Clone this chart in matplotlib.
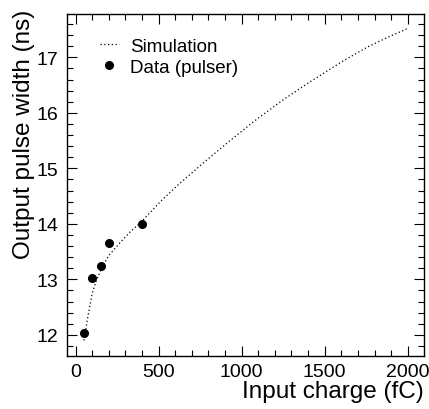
import matplotlib
matplotlib.use("Agg")
import matplotlib.pyplot as plt
from matplotlib.ticker import MultipleLocator

plt.rcParams['font.family'] = ['Liberation Sans', 'DejaVu Sans']

# Simulation curve
sim_charge = [50, 75, 100, 125, 150, 175, 200, 270, 330, 400, 460, 520, 620,
              770, 920, 1080, 1250, 1410, 1600, 1760, 1880, 2000]
sim_width = [11.9, 12.35, 12.75, 12.98, 13.15, 13.3, 13.43, 13.67, 13.86,
             14.05, 14.24, 14.43, 14.71, 15.1, 15.475, 15.86, 16.235, 16.555,
             16.915, 17.19, 17.36, 17.52]

# Pulser data
data_charge = [50, 100, 150, 200, 400]
data_width = [12.04, 13.03, 13.25, 13.65, 14.0]

fig = plt.figure(figsize=(4.29, 4.10), dpi=100)
ax = fig.add_axes([67/429, 1-357/410, (424-67)/429, (357-15)/410])

ax.plot(sim_charge, sim_width, color='black', lw=0.9, linestyle=(0, (1, 2)),
        label='Simulation')
ax.plot(data_charge, data_width, 'o', color='black', markersize=5.5,
        label='Data (pulser)')

ax.set_xlim(-52, 2098)
ax.set_ylim(11.62, 17.78)

ax.xaxis.set_major_locator(MultipleLocator(500))
ax.xaxis.set_minor_locator(MultipleLocator(100))
ax.yaxis.set_major_locator(MultipleLocator(1))
ax.yaxis.set_minor_locator(MultipleLocator(0.2))

ax.tick_params(which='both', direction='in', top=True, right=True,
               labelsize=14, width=0.8)
ax.tick_params(which='major', length=7.5)
ax.tick_params(which='minor', length=4)
ax.tick_params(axis='y', which='major', pad=6)
ax.tick_params(axis='x', which='major', pad=5)
ax.tick_params(axis='both', labeltop=False, labelright=False)
for s in ax.spines.values():
    s.set_linewidth(1.0)

ax.set_xlabel('Input charge (fC)', fontsize=17.5, loc='right')
ax.xaxis.set_label_coords(1.0, -0.07)
ax.set_ylabel('Output pulse width (ns)', fontsize=17.5, loc='top')
ax.yaxis.set_label_coords(-0.09, 1.015)

leg = ax.legend(loc='upper left', bbox_to_anchor=(0.071, 0.953), frameon=False,
                fontsize=13.5, handlelength=1.0, handletextpad=0.6,
                labelspacing=0.2, borderaxespad=0)

fig.savefig('out.png', dpi=100)
